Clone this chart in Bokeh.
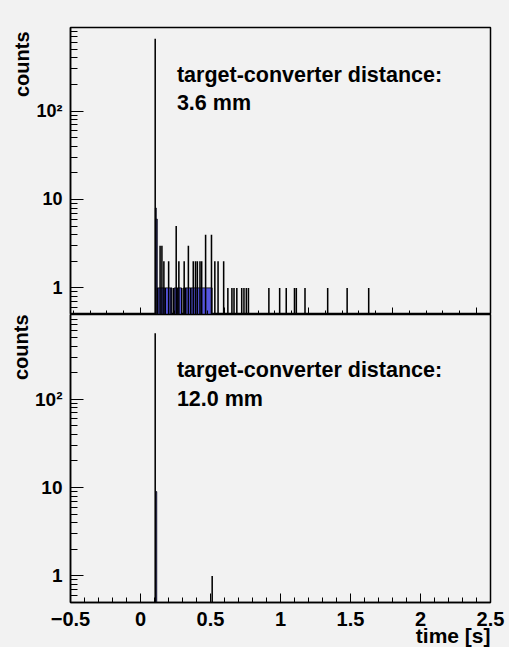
from bokeh.plotting import figure
from bokeh.layouts import column
from bokeh.models import (Range1d, FixedTicker, SingleIntervalTicker, Label, Title,
                          CustomJSTickFormatter, ColumnDataSource)
from bokeh.embed import file_html
from bokeh.resources import INLINE

# ---------------- data ----------------
x_lo, x_hi = -0.5, 2.5
top_y_lo, top_y_hi = 0.5, 880
bot_y_lo, bot_y_hi = 0.5, 910

# top panel (3.6 mm): black histogram bins (time [s], counts)
top_black_t = [0.105, 0.123, 0.140, 0.153, 0.167, 0.177, 0.201, 0.218, 0.236, 0.255,
               0.262, 0.274, 0.295, 0.312, 0.323, 0.342, 0.359, 0.377, 0.393, 0.406,
               0.425, 0.437, 0.465, 0.507, 0.531, 0.554, 0.594, 0.624, 0.653, 0.668,
               0.688, 0.723, 0.739, 0.756, 0.771, 0.917, 0.994, 1.041, 1.100, 1.113,
               1.175, 1.337, 1.476, 1.630]
top_black_n = [655, 1, 3, 3, 2, 1, 2, 1, 1, 5,
               1, 2, 1, 2, 1, 3, 1, 2, 2, 2,
               2, 2, 4, 4, 2, 2, 2, 1, 1, 1,
               1, 1, 1, 1, 1, 1, 1, 1, 1, 1,
               1, 1, 1, 1]
# top panel: blue filled histogram (bin edges, counts)
top_blue_lo = [0.106, 0.113, 0.120, 0.241, 0.307]
top_blue_hi = [0.113, 0.120, 0.225, 0.293, 0.512]
top_blue_n = [8, 6, 1, 1, 1]

# bottom panel (12.0 mm)
bot_black_t = [0.105, 0.512]
bot_black_n = [557, 1]
bot_blue_lo = [0.109]
bot_blue_hi = [0.116]
bot_blue_n = [9]

y_major = [1, 10, 100]
y_minor = [0.6, 0.7, 0.8, 0.9, 2, 3, 4, 5, 6, 7, 8, 9,
           20, 30, 40, 50, 60, 70, 80, 90, 200, 300, 400, 500, 600, 700, 800, 900]
y_labels = {1: "1", 10: "10", 100: "10²"}
top_x_major = [0.0, 0.6, 1.2, 1.8, 2.4]
top_x_minor = [-0.48, -0.36, -0.24, -0.12, 0.12, 0.24, 0.36, 0.48, 0.72, 0.84, 0.96,
               1.08, 1.32, 1.44, 1.56, 1.68, 1.92, 2.04, 2.16, 2.28]

BG = "#f2f2f2"
BLUE = "#5656e0"
FONT = "Liberation Sans"
INK = "black"


def make_panel(y_lo, y_hi, black_t, black_n, blue_lo, blue_hi, blue_n, top,
               ylab_size, line2, y1, y2):
    p = figure(x_range=Range1d(x_lo, x_hi), y_range=Range1d(y_lo, y_hi),
               y_axis_type="log", width=509, height=314 if top else 333,
               output_backend="svg", toolbar_location=None,
               min_border_left=70, min_border_right=19,
               min_border_top=27 if top else 0,
               min_border_bottom=0 if top else 45)
    p.background_fill_color = BG
    p.border_fill_color = BG
    p.outline_line_color = "black"
    p.outline_line_width = 1.5
    p.grid.visible = False

    blue = ColumnDataSource(dict(l=blue_lo, r=blue_hi, t=blue_n,
                                 b=[y_lo] * len(blue_n)))
    p.quad(left="l", right="r", top="t", bottom="b", source=blue,
           fill_color=BLUE, line_color="black", line_width=0.8)
    blk = ColumnDataSource(dict(x=black_t, t=black_n, b=[y_lo] * len(black_n)))
    p.vbar(x="x", top="t", bottom="b", width=0.011, source=blk,
           fill_color="black", line_color=None)

    ya = p.yaxis[0]
    ya.ticker = FixedTicker(ticks=y_major, minor_ticks=y_minor)
    ya.major_label_overrides = y_labels
    ya.major_tick_in = 13
    ya.major_tick_out = 0
    ya.minor_tick_in = 7
    ya.minor_tick_out = 0
    ya.major_label_standoff = 8
    ya.major_label_text_font = FONT
    ya.major_label_text_font_style = "bold"
    ya.major_label_text_font_size = ylab_size
    ya.major_label_text_color = INK
    ya.axis_line_width = 1.5

    xa = p.xaxis[0]
    xa.axis_line_width = 1.5
    xa.major_tick_out = 0
    xa.minor_tick_out = 0
    if top:
        xa.ticker = FixedTicker(ticks=top_x_major, minor_ticks=top_x_minor)
        xa.major_tick_in = 7
        xa.minor_tick_in = 4
        xa.formatter = CustomJSTickFormatter(code="return ''")
        xa.major_label_text_font_size = "0px"
        xa.major_label_standoff = 0
    else:
        xa.ticker = SingleIntervalTicker(interval=0.5, num_minor_ticks=5)
        xa.major_tick_in = 9
        xa.minor_tick_in = 5
        xa.major_label_standoff = 9
        xa.major_label_text_font = FONT
        xa.major_label_text_font_style = "bold"
        xa.major_label_text_font_size = "20px"
        xa.major_label_text_color = INK

    ttl = Title(text="counts", align="right", text_font=FONT, text_color=INK,
                text_font_style="bold", text_font_size="20px", standoff=2,
                offset=4 if top else 0)
    p.add_layout(ttl, "left")

    for yy, txt in ((y1, "target-converter distance:"), (y2, line2)):
        p.add_layout(Label(x=0.26, y=yy, text=txt, text_color=INK,
                           text_font=FONT, text_font_style="bold",
                           text_font_size="21.5px", text_baseline="alphabetic"))
    return p


p_top = make_panel(top_y_lo, top_y_hi, top_black_t, top_black_n,
                   top_blue_lo, top_blue_hi, top_blue_n, True, "18px", "3.6 mm",
                   255, 122)
p_bot = make_panel(bot_y_lo, bot_y_hi, bot_black_t, bot_black_n,
                   bot_blue_lo, bot_blue_hi, bot_blue_n, False, "19px", "12.0 mm",
                   215, 101)
p_bot.add_layout(Title(text="time [s]", align="right", text_color=INK, text_font=FONT,
                       text_font_style="bold", text_font_size="21px", standoff=-14),
                 "below")

layout = column(p_top, p_bot, spacing=0, styles={"background-color": BG})
open("out.html", "w").write(file_html(layout, INLINE))
